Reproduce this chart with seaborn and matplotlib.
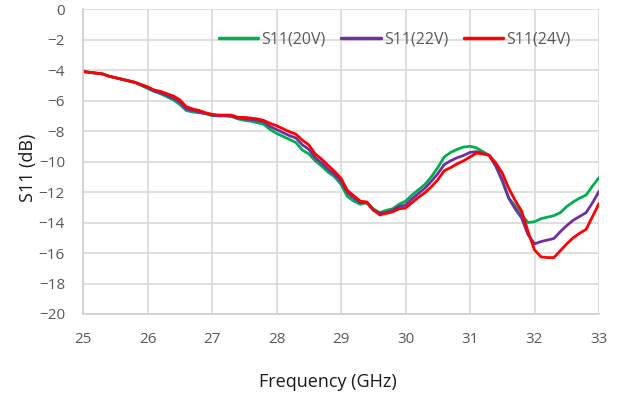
import numpy as np
import pandas as pd
import matplotlib
matplotlib.use("Agg")
import matplotlib.pyplot as plt
import seaborn as sns

freq = [round(25 + 0.1 * i, 1) for i in range(81)]

s11_20v = [-4.05, -4.15, -4.2, -4.25, -4.4, -4.5, -4.6, -4.7, -4.8, -5.0,
           -5.2, -5.4, -5.55, -5.75, -5.95, -6.25, -6.65, -6.75, -6.8, -6.85,
           -7.0, -7.0, -7.0, -7.05, -7.2, -7.3, -7.35, -7.45, -7.55, -7.9,
           -8.15, -8.35, -8.55, -8.75, -9.25, -9.5, -9.95, -10.3, -10.7, -11.0,
           -11.5, -12.3, -12.6, -12.8, -12.7, -13.1, -13.35, -13.2, -13.1, -12.8,
           -12.6, -12.2, -11.85, -11.5, -11.0, -10.4, -9.7, -9.4, -9.2, -9.05,
           -9.0, -9.1, -9.35, -9.6, -10.3, -11.3, -12.4, -12.9, -13.5, -14.0,
           -13.95, -13.75, -13.65, -13.55, -13.35, -12.95, -12.65, -12.4, -12.2, -11.6,
           -11.05]

s11_22v = [-4.1, -4.15, -4.2, -4.25, -4.4, -4.5, -4.6, -4.7, -4.8, -4.97,
           -5.15, -5.35, -5.5, -5.65, -5.85, -6.1, -6.55, -6.65, -6.75, -6.85,
           -6.95, -7.0, -7.0, -7.0, -7.15, -7.2, -7.25, -7.3, -7.4, -7.7,
           -7.9, -8.1, -8.3, -8.45, -8.9, -9.2, -9.75, -10.1, -10.5, -10.85,
           -11.3, -12.05, -12.4, -12.7, -12.7, -13.2, -13.4, -13.35, -13.2, -12.95,
           -12.85, -12.45, -12.1, -11.75, -11.3, -10.8, -10.2, -9.95, -9.75, -9.6,
           -9.4, -9.35, -9.45, -9.6, -10.3, -11.2, -12.4, -13.1, -13.7, -14.8,
           -15.4, -15.25, -15.15, -15.05, -14.6, -14.2, -13.85, -13.6, -13.35, -12.7,
           -11.95]

s11_24v = [-4.1, -4.15, -4.2, -4.25, -4.4, -4.5, -4.6, -4.7, -4.8, -4.95,
           -5.1, -5.3, -5.4, -5.55, -5.7, -5.95, -6.4, -6.55, -6.65, -6.8,
           -6.9, -6.95, -6.95, -6.95, -7.1, -7.1, -7.15, -7.2, -7.3, -7.5,
           -7.65, -7.85, -8.05, -8.2, -8.6, -8.9, -9.5, -9.85, -10.25, -10.65,
           -11.1, -11.9, -12.25, -12.6, -12.65, -13.15, -13.5, -13.4, -13.3, -13.1,
           -13.05, -12.7, -12.35, -12.05, -11.65, -11.2, -10.6, -10.4, -10.15, -9.95,
           -9.7, -9.45, -9.5, -9.6, -10.1, -10.75, -11.75, -12.55, -13.25, -14.6,
           -15.8, -16.25, -16.3, -16.3, -15.85, -15.4, -15.0, -14.7, -14.45, -13.6,
           -12.75]

series_names = ["S11(20V)", "S11(22V)", "S11(24V)"]
series_colors = ["#00b050", "#7030a0", "#ff0000"]
x_ticks = [25, 26, 27, 28, 29, 30, 31, 32, 33]
y_ticks = [0, -2, -4, -6, -8, -10, -12, -14, -16, -18, -20]

df = pd.concat([
    pd.DataFrame({"Frequency": freq, "S11": vals, "Series": name})
    for name, vals in zip(series_names, [s11_20v, s11_22v, s11_24v])
])

sns.set_theme(style="white")
plt.rcParams['font.family'] = ['Open Sans', 'DejaVu Sans']

fig, ax = plt.subplots(figsize=(6.21, 3.96), dpi=100)
fig.subplots_adjust(left=0.1337, right=0.9646, top=0.977, bottom=0.2071)

sns.lineplot(data=df, x="Frequency", y="S11", hue="Series",
             palette=dict(zip(series_names, series_colors)),
             linewidth=2.0, ax=ax, estimator=None, sort=False)

ax.set_xlim(25, 33)
ax.set_ylim(-20, 0)
ax.set_xticks(x_ticks)
ax.set_yticks(y_ticks)
ax.grid(True, color="#d9d9d9", linewidth=1.2)
ax.set_axisbelow(True)
for side in ["top", "right"]:
    ax.spines[side].set_visible(False)
for side in ["left", "bottom"]:
    ax.spines[side].set_color("#d0d0d0")
    ax.spines[side].set_linewidth(1.2)
ax.tick_params(axis="both", colors="#595959", labelsize=11, length=0)
ax.tick_params(axis="x", pad=13)
ax.tick_params(axis="y", pad=13)
ax.set_xlabel("Frequency (GHz)", fontsize=13, color="#1a1a1a")
ax.set_ylabel("S11 (dB)", fontsize=13, color="#1a1a1a")
ax.xaxis.set_label_coords(0.475, -0.193)
ax.yaxis.set_label_coords(-0.09, 0.48)

leg = ax.legend(loc="upper center", bbox_to_anchor=(0.604, 0.975), ncol=3,
                frameon=False, fontsize=11.5, handlelength=2.45,
                columnspacing=1.0, handletextpad=0.2)
for t in leg.get_texts():
    t.set_color("#595959")
for l in leg.get_lines():
    l.set_linewidth(2.5)

fig.savefig("out.png", dpi=100)
